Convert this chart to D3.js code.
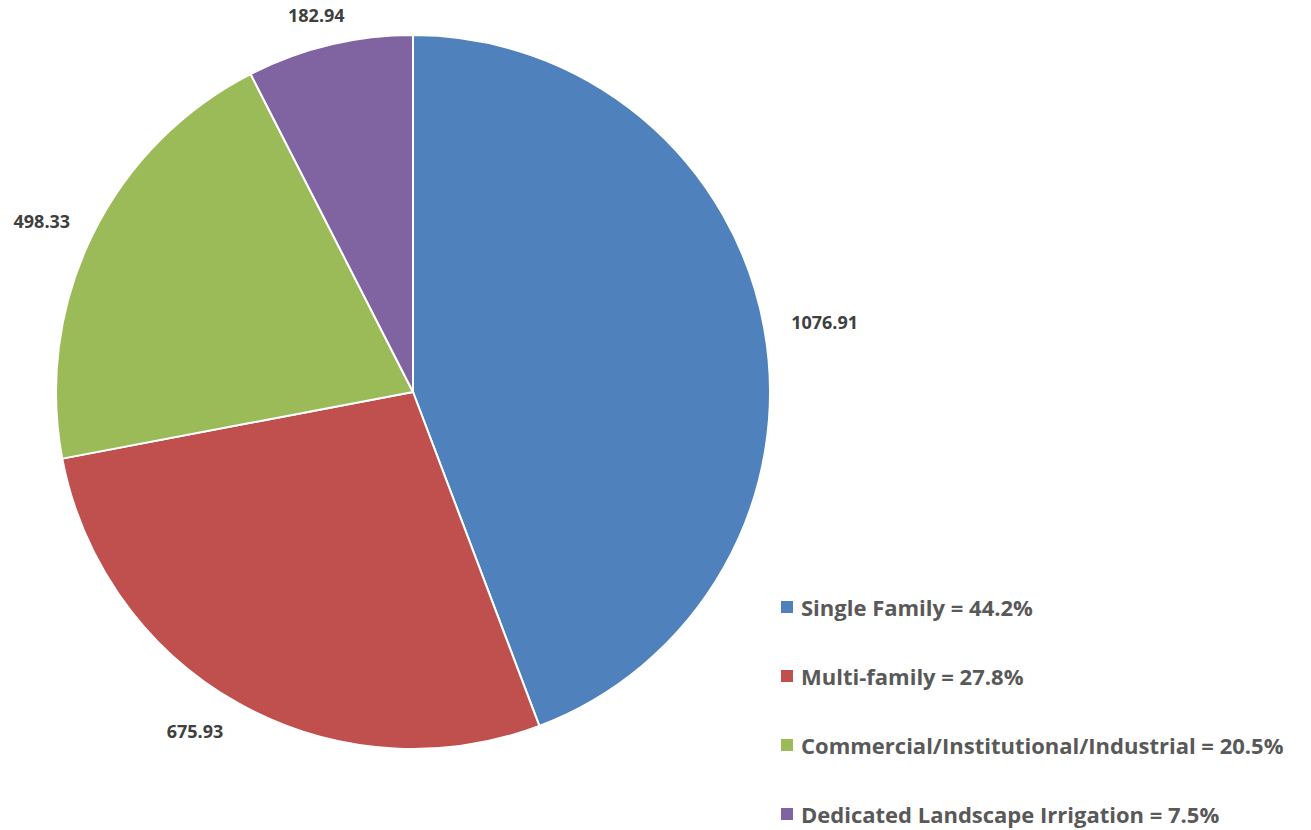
<!DOCTYPE html>
<html><head><meta charset="utf-8">
<script src="https://cdn.jsdelivr.net/npm/d3@7"></script>
<style>body{margin:0;background:#fff}svg{display:block}</style>
</head><body>
<svg id="c" width="1311" height="830"></svg>
<script>
const categories = ["Single Family", "Multi-family", "Commercial/Institutional/Industrial", "Dedicated Landscape Irrigation"];
const values = [1076.91, 675.93, 498.33, 182.94];
const valueLabels = ["1076.91", "675.93", "498.33", "182.94"];
const percentLabels = ["44.2%", "27.8%", "20.5%", "7.5%"];
const colors = ["#4F81BD", "#C0504D", "#9BBB59", "#8064A2"];

const svg = d3.select("#c");
const cx = 413, cy = 392, r = 357, rLabX = 385, rLabY = 380;
const labelFont = 18;
// small layout nudge (pixels) for the label placement, mimicking the original renderer
const nudgeX = [0, -16, 0, 0];
const data = categories.map((c, i) => ({cat: c, value: values[i], label: valueLabels[i], pct: percentLabels[i], color: colors[i], i}));
const pie = d3.pie().value(d => d.value).sort(null);
const arcs = pie(data);
const arc = d3.arc().innerRadius(0).outerRadius(r);
const g = svg.append("g").attr("transform", `translate(${cx},${cy})`);
g.selectAll("path").data(arcs).join("path")
  .attr("d", arc).attr("fill", d => d.data.color)
  .attr("stroke", "#fff").attr("stroke-width", 2).attr("stroke-linejoin", "round");

const font = "'Open Sans', sans-serif";
g.selectAll("text.lab").data(arcs).join("text")
  .attr("class", "lab")
  .attr("font-family", font).attr("font-weight", "bold").attr("font-size", labelFont)
  .attr("fill", "#404040").attr("text-anchor", "middle").attr("dominant-baseline", "central")
  .text(d => d.data.label)
  .each(function(d) {
    const a = (d.startAngle + d.endAngle) / 2;
    const bb = this.getBBox();
    const h = labelFont * 0.9;
    const x = Math.sin(a) * rLabX + Math.sin(a) * bb.width / 2 + nudgeX[d.data.i];
    const y = -Math.cos(a) * rLabY - Math.cos(a) * h / 2;
    d3.select(this).attr("x", x).attr("y", y);
  });

const leg = svg.append("g").attr("transform", "translate(781,607)");
const row = leg.selectAll("g").data(data).join("g").attr("transform", (d, i) => `translate(0,${i * 69})`);
row.append("rect").attr("x", 0).attr("y", -6).attr("width", 12).attr("height", 12).attr("fill", d => d.color);
row.append("text").attr("x", 20).attr("y", 0).attr("dominant-baseline", "central")
  .attr("font-family", font).attr("font-weight", "bold").attr("font-size", 22).attr("fill", "#595959")
  .text(d => `${d.cat} = ${d.pct}`);
</script>
</body></html>
